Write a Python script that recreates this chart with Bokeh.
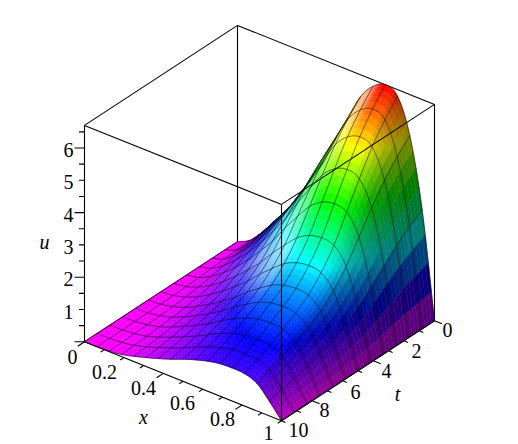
import colorsys, math
from bokeh.plotting import figure
from bokeh.core.properties import value
from bokeh.embed import file_html
from bokeh.resources import INLINE

x_vals = [i/16 for i in range(17)]
t_vals = [j*10/12 for j in range(13)]
A = [6.7,6.2,5.6,4.85,4.05,3.25,2.65,2.2,1.9,1.65,1.4,1.2,1.02]
f0 = [0,.03,.09,.165,.24,.325,.425,.53,.66,.78,.90,.97,1.0,.97,.81,.49,0]
f1 = [0,0,.02,.065,.16,.27,.39,.52,.67,.80,.91,.98,1.0,.98,.84,.45,0]
u_table = [[A[j]*(f0[i]*(1-j/12)+f1[i]*j/12) for i in range(17)] for j in range(13)]
u_top = 6.7

def proj(x,t,u):
    return 237+197*x-15.3*t, 241.3+79*x+10*t-32.3*u
def norm(v):
    m = math.sqrt(sum(c*c for c in v)); return [c/m for c in v]
L = norm([-.2,.5,.85]); L2 = norm([-.6,.5,.62]); V = norm([.53,.68,.5])

SUB=4
def cr(p0,p1,p2,p3,s):
    return .5*((2*p1)+(-p0+p2)*s+(2*p0-5*p1+4*p2-p3)*s*s+(-p0+3*p1-3*p2+p3)*s*s*s)
def refine(seq):
    out=[]; m=len(seq)
    for k in range(m-1):
        a=seq[k-1] if k>0 else 2*seq[0]-seq[1]
        d=seq[k+2] if k+2<m else 2*seq[-1]-seq[-2]
        for q in range(SUB):
            out.append(cr(a,seq[k],seq[k+1],d,q/SUB))
    out.append(seq[-1]); return out
rows=[refine(r) for r in u_table]
cols_=[refine([rows[j][i] for j in range(13)]) for i in range(len(rows[0]))]
NX=len(cols_); NT=len(cols_[0])
S=[[max(0,cols_[i][j]) for i in range(NX)] for j in range(NT)]
dx=1/(NX-1); dt=1/(NT-1)
X=[i*dx for i in range(NX)]; T=[j*dt*10 for j in range(NT)]

xs,ys,colors=[],[],[]
for j in range(NT-1):
    for i in range(NX-1):
        a,b,c,d=S[j][i],S[j][i+1],S[j+1][i+1],S[j+1][i]
        P=[proj(X[i],T[j],a),proj(X[i+1],T[j],b),proj(X[i+1],T[j+1],c),proj(X[i],T[j+1],d)]
        xs.append([q[0] for q in P]); ys.append([q[1] for q in P])
        ux=((b-a)+(c-d))/2/dx/u_top; ut=((d-a)+(c-b))/2/dt/u_top
        nv=norm([-ux,-ut,1])
        diff=max(0,sum(p*q for p,q in zip(nv,L)))
        spec=max(0,sum(p*q for p,q in zip(nv,L2)))**30*.55
        nvv=sum(p*q for p,q in zip(nv,V))
        h=max(0,300*(1-(a+b+c+d)/4/u_top))/360
        base=colorsys.hsv_to_rgb(h,1,1)
        br=min(1,.48+.62*diff)*min(1,.6+2.5*max(0,nvv))
        rgb=[q*br for q in base]; rgb=[q+(1-q)*spec for q in rgb]
        colors.append("#%02x%02x%02x"%tuple(int(255*min(1,q)) for q in rgb))

p = figure(width=518,height=444,x_range=(0,518),y_range=(444,0),toolbar_location=None,output_backend="svg",min_border=0)
p.axis.visible=False; p.grid.visible=False; p.outline_line_color=None

def box(a,b):
    pa=proj(*a); pb=proj(*b); return pa[0],pa[1],pb[0],pb[1]
U=u_top
back=[((0,10,U),(0,0,U)),((0,0,U),(1,0,U)),((0,0,0),(0,0,U)),((0,10,0),(0,10,U)),((1,0,0),(1,0,U)),((0,10,0),(0,0,0))]
front=[((0,10,U),(1,10,U)),((1,10,U),(1,0,U)),((1,10,0),(1,10,U)),((0,10,0),(1,10,0)),((1,10,0),(1,0,0))]
def segs(lst,w=1.1):
    q=[box(a,b) for a,b in lst]
    p.segment([s[0] for s in q],[s[1] for s in q],[s[2] for s in q],[s[3] for s in q],line_color="black",line_width=w)
segs(back)
p.patches(xs,ys,fill_color=colors,line_color=colors,line_width=.5)
gx,gy=[],[]
for j in range(0,NT,SUB):
    q=[proj(X[i],T[j],S[j][i]) for i in range(NX)]
    gx.append([a[0] for a in q]); gy.append([a[1] for a in q])
for i in range(0,NX,SUB):
    q=[proj(X[i],T[j],S[j][i]) for j in range(NT)]
    gx.append([a[0] for a in q]); gy.append([a[1] for a in q])
p.multi_line(gx,gy,line_color="black",line_alpha=.5,line_width=1)
segs(front)

def ticks(base,dirv,vals,major):
    q=[]
    for v in vals:
        a=base(v); l=major if abs(v/vals[2]/2-round(v/vals[2]/2))<1e-6 else major*.55
        q.append((a[0],a[1],a[0]+dirv[0]*l,a[1]+dirv[1]*l))
    p.segment(*[[s[k] for s in q] for k in range(4)],line_color="black",line_width=1.1)
ticks(lambda v:proj(0,10,v),(-1,0),[.5*k for k in range(0,14)],10)
ticks(lambda v:proj(v,10,0),(-.84,.55),[.1*k for k in range(0,11)],8)
ticks(lambda v:proj(1,v,0),(.93,.37),[1.0*k for k in range(0,11)],8)

def labels(txt,xp,yp,style="normal",size="20px"):
    p.text(xp,yp,text=txt,text_font=value("Liberation Serif"),text_font_size=value(size),text_font_style=style,text_align="center",text_baseline="middle",text_color="black")
u_labels=["1","2","3","4","5","6"]
labels(u_labels,[68]*6,[proj(0,10,int(s))[1]+2 for s in u_labels])
x_labels=["0","0.2","0.4","0.6","0.8","1"]
labels(x_labels,[72,104,143,182,222,268],[356,371,387,402,418,432])
t_labels=["0","2","4","6","8","10"]
labels(t_labels,[447,416,386,355,324,298],[329,350,370,391,409,429])
labels(["u","x","t"],[44,143,397],[241,416,393],style="italic")
open("out.html","w").write(file_html(p,INLINE))
